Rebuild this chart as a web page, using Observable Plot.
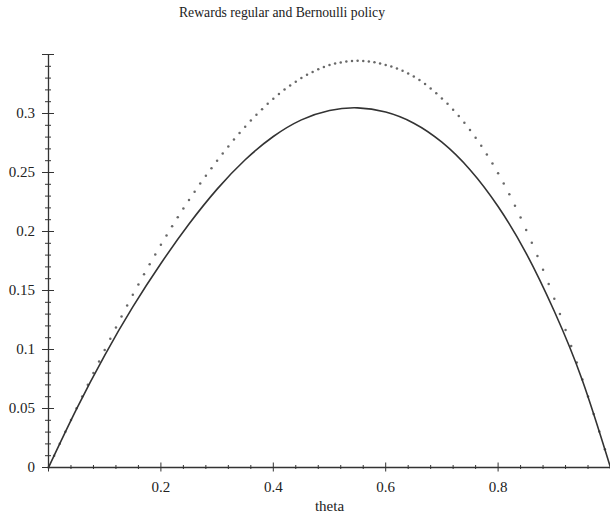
<!DOCTYPE html>
<html><head><meta charset="utf-8">
<script src="https://cdn.jsdelivr.net/npm/d3@7"></script>
<script src="https://cdn.jsdelivr.net/npm/@observablehq/plot@0.6"></script>
<style>
body{margin:0;background:#fff;}
#wrap{position:relative;width:610px;height:516px;overflow:hidden;}
#title{position:absolute;left:0;top:5px;width:564px;text-align:center;font-family:"Liberation Serif",serif;font-size:13.7px;color:#222;line-height:16px;}
#chart{position:absolute;left:0;top:0;}
#chart svg, #chart svg text{font-family:"Liberation Serif",serif !important;}
</style></head><body>
<div id="wrap"><div id="chart"></div><div id="title">Rewards regular and Bernoulli policy</div></div>
<script>
// regular policy (solid curve)
const theta = [0,0.05,0.1,0.15,0.2,0.25,0.3,0.35,0.4,0.45,0.5,0.55,0.6,0.65,0.7,0.75,0.8,0.85,0.9,0.95,1];
const regular = [0,0.0497,0.0951,0.1361,0.1729,0.2063,0.2359,0.2608,0.2805,0.2946,0.3026,0.3048,0.3012,0.2918,0.2757,0.2524,0.2212,0.1815,0.1324,0.0738,0];
// Bernoulli policy (dotted points)
const thetaB = [0,0.01,0.02,0.03,0.04,0.05,0.06,0.07,0.08,0.09,0.1,0.11,0.12,0.13,0.14,0.15,0.16,0.17,0.18,0.19,0.2,0.21,0.22,0.23,0.24,0.25,0.26,0.27,0.28,0.29,0.3,0.31,0.32,0.33,0.34,0.35,0.36,0.37,0.38,0.39,0.4,0.41,0.42,0.43,0.44,0.45,0.46,0.47,0.48,0.49,0.5,0.51,0.52,0.53,0.54,0.55,0.56,0.57,0.58,0.59,0.6,0.61,0.62,0.63,0.64,0.65,0.66,0.67,0.68,0.69,0.7,0.71,0.72,0.73,0.74,0.75,0.76,0.77,0.78,0.79,0.8,0.81,0.82,0.83,0.84,0.85,0.86,0.87,0.88,0.89,0.9,0.91,0.92,0.93,0.94,0.95,0.96,0.97,0.98,0.99,1];
const bernoulli = [0,0.0100,0.0201,0.0302,0.0402,0.0502,0.0602,0.0701,0.0800,0.0898,0.0995,
  0.1091,0.1186,0.1280,0.1372,0.1463,0.1551,0.1638,0.1723,0.1806,0.1887,
  0.1967,0.2044,0.2120,0.2195,0.2267,0.2337,0.2406,0.2472,0.2537,0.2600,
  0.2661,0.2721,0.2779,0.2834,0.2888,0.2940,0.2990,0.3037,0.3082,0.3125,
  0.3165,0.3203,0.3238,0.3270,0.3300,0.3328,0.3352,0.3374,0.3394,0.3410,
  0.3423,0.3433,0.3440,0.3445,0.3446,0.3445,0.3441,0.3434,0.3424,0.3412,
  0.3398,0.3382,0.3362,0.3339,0.3313,0.3283,0.3249,0.3212,0.3172,0.3128,
  0.3082,0.3032,0.2978,0.2921,0.2860,0.2795,0.2726,0.2653,0.2576,0.2494,
  0.2406,0.2315,0.2219,0.2118,0.2013,0.1905,0.1792,0.1676,0.1555,0.1430,
  0.1300,0.1166,0.1029,0.0889,0.0745,0.0601,0.0454,0.0305,0.0154,0];
const xLabels = [0.2,0.4,0.6,0.8];
const xMajor = [0,0.2,0.4,0.6,0.8];
const xMinor = [0.04,0.08,0.12,0.16,0.24,0.28,0.32,0.36,0.44,0.48,0.52,0.56,0.64,0.68,0.72,0.76,0.84,0.88,0.92,0.96];
const yLabels = [0,0.05,0.1,0.15,0.2,0.25,0.3];
const yMajor = [0,0.05,0.1,0.15,0.2,0.25,0.3,0.35];
const yMinor = [0.01,0.02,0.03,0.04,0.06,0.07,0.08,0.09,0.11,0.12,0.13,0.14,0.16,0.17,0.18,0.19,0.21,0.22,0.23,0.24,0.26,0.27,0.28,0.29,0.31,0.32,0.33,0.34];
const xTitle = "theta";

const regData = theta.map((t,i)=>({theta:t, v:regular[i]}));
const berData = thetaB.map((t,i)=>({theta:t, v:bernoulli[i]}));
const fmt = d => String(+d.toFixed(2));
const font = "'Liberation Serif', serif";
const ink = "#333";

const chart = Plot.plot({
  width: 610, height: 516,
  marginLeft: 48, marginRight: 0, marginTop: 54, marginBottom: 49,
  style: {fontFamily: font, fontSize: "15px", color: ink, background: "white"},
  x: {domain: [0,1], axis: null},
  y: {domain: [0,0.35], axis: null},
  marks: [
    Plot.dot(berData, {x: "theta", y: "v", r: 1.25, fill: "#686868", stroke: "none"}),
    Plot.line(regData, {x: "theta", y: "v", curve: "natural", stroke: "#333", strokeWidth: 1.6}),
    Plot.ruleY([0], {stroke: ink, strokeWidth: 1.3}),
    Plot.ruleX([0], {stroke: ink, strokeWidth: 1.3}),
    Plot.axisX(xMajor, {tickSize: 9, dy: -4.5, fill: "none", stroke: ink, label: null}),
    Plot.axisX(xMinor, {tickSize: 4, dy: -2, fill: "none", stroke: ink, label: null}),
    Plot.axisX(xLabels, {tickSize: 0, tickPadding: 14, tickFormat: fmt, fill: "#222", fontFamily: font, fontSize: 15, label: null}),
    Plot.axisY(yMajor, {tickSize: 12, dx: 6, fill: "none", stroke: ink, label: null}),
    Plot.axisY(yMinor, {tickSize: 6, dx: 3, fill: "none", stroke: ink, label: null}),
    Plot.axisY(yLabels, {tickSize: 0, tickPadding: 13.5, tickFormat: fmt, fill: "#222", fontFamily: font, fontSize: 15, label: null}),
    Plot.text([xTitle], {text: d => d, frameAnchor: "bottom", lineAnchor: "top", dy: 33, fill: "#222", fontFamily: font, fontSize: 15})
  ]
});
document.getElementById("chart").appendChild(chart);
</script>
</body></html>
